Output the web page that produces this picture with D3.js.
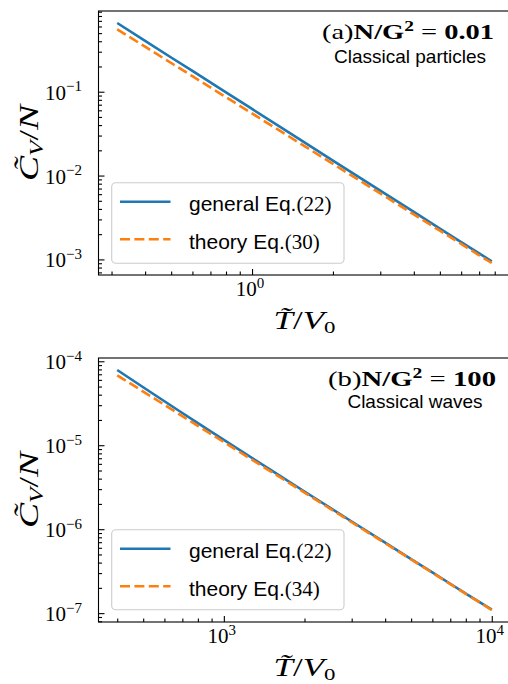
<!DOCTYPE html>
<html><head><meta charset="utf-8">
<script src="https://cdn.jsdelivr.net/npm/d3@7"></script>
<style>
html,body{margin:0;padding:0;background:#fff;}
svg{display:block;}
</style></head>
<body>
<svg id="chart" width="508" height="684"></svg>
<script>
// ---------- data ----------
const tA = [0.315, 0.4, 0.5, 0.6, 0.8, 1, 1.5, 2, 3, 4, 5, 6, 7, 7.8];
const generalA = [0.660, 0.404, 0.256, 0.177, 0.0982, 0.0623, 0.0272, 0.01509, 0.00661, 0.00368, 0.00233, 0.00161, 0.00118, 0.000951];
const theoryA = [0.555, 0.344, 0.220, 0.153, 0.0861, 0.0551, 0.0245, 0.01378, 0.00612, 0.00344, 0.00220, 0.00153, 0.00112, 0.000906];

const tB = [400, 500, 600, 700, 800, 1000, 1500, 2000, 3000, 4000, 5000, 6000, 7000, 8000, 10000];
const generalB = [7.87e-5, 4.90e-5, 3.34e-5, 2.42e-5, 1.83e-5, 1.158e-5, 5.04e-6, 2.81e-6, 1.235e-6, 6.92e-7, 4.41e-7, 3.06e-7, 2.24e-7, 1.71e-7, 1.10e-7];
const theoryB = [6.81e-5, 4.36e-5, 3.03e-5, 2.22e-5, 1.70e-5, 1.09e-5, 4.84e-6, 2.73e-6, 1.21e-6, 6.81e-7, 4.36e-7, 3.03e-7, 2.22e-7, 1.70e-7, 1.09e-7];

const xMajorA = [1];
const xExpA = ["0"];
const yMajorA = [1e-3, 1e-2, 1e-1];
const yExpA = ["\u22123", "\u22122", "\u22121"];
const xMajorB = [1e3, 1e4];
const xExpB = ["3", "4"];
const yMajorB = [1e-7, 1e-6, 1e-5, 1e-4];
const yExpB = ["\u22127", "\u22126", "\u22125", "\u22124"];

const seriesNames = ["general Eq.", "theory Eq."];
const eqNumsA = ["(22)", "(30)"];
const eqNumsB = ["(22)", "(34)"];
const panelTags = ["(a)", "(b)"];
const panelRatios = ["0.01", "100"];
const panelSubtitles = ["Classical particles", "Classical waves"];

// ---------- drawing ----------
const svg = d3.select("#chart");
const BLUE = "#1f77b4", ORANGE = "#ff7f0e";
const SERIF = "'Liberation Serif', 'DejaVu Serif', serif";
const SANS = "'Liberation Sans', Arial, sans-serif";

function logPad(vals) {
  const lo = Math.log10(d3.min(vals)), hi = Math.log10(d3.max(vals));
  const m = (hi - lo) * 0.05;
  return [Math.pow(10, lo - m), Math.pow(10, hi + m)];
}

function minorTicks(domain) {
  const out = [];
  const d0 = Math.floor(Math.log10(domain[0])), d1 = Math.ceil(Math.log10(domain[1]));
  for (let d = d0; d <= d1; d++) for (let k = 2; k <= 9; k++) {
    const v = k * Math.pow(10, d);
    if (v >= domain[0] && v <= domain[1]) out.push(v);
  }
  return out;
}

function drawPanel(idx, cfg) {
  const L = 98.5, R = 510.5, T = cfg.top, B = cfg.top + 264;
  const g = svg.append("g");
  const xd = logPad(cfg.t);
  const yd = logPad(cfg.general.concat(cfg.theory));
  const x = d3.scaleLog().domain(xd).range([L, R]);
  const y = d3.scaleLog().domain(yd).range([B, T]);

  const clipId = "clip" + idx;
  svg.append("clipPath").attr("id", clipId).append("rect")
    .attr("x", L).attr("y", T).attr("width", R - L).attr("height", B - T);

  // lines
  const line = (vals) => d3.line().x((d, i) => x(cfg.t[i])).y(d => y(d))(vals);
  g.append("path").attr("d", line(cfg.general)).attr("fill", "none")
    .attr("stroke", BLUE).attr("stroke-width", 2.6).attr("clip-path", `url(#${clipId})`);
  g.append("path").attr("d", line(cfg.theory)).attr("fill", "none")
    .attr("stroke", ORANGE).attr("stroke-width", 2.6).attr("stroke-dasharray", "10,4.4")
    .attr("clip-path", `url(#${clipId})`);

  // axes (ticks inward)
  const xAxisMajor = d3.axisBottom(x).tickValues(cfg.xMajor).tickSize(-6).tickFormat("");
  const xAxisMinor = d3.axisBottom(x).tickValues(minorTicks(xd)).tickSize(-3.5).tickFormat("");
  const yAxisMajor = d3.axisLeft(y).tickValues(cfg.yMajor).tickSize(-6).tickFormat("");
  const yAxisMinor = d3.axisLeft(y).tickValues(minorTicks(yd)).tickSize(-3.5).tickFormat("");
  [[xAxisMajor, `translate(0,${B})`], [xAxisMinor, `translate(0,${B})`],
   [yAxisMajor, `translate(${L},0)`], [yAxisMinor, `translate(${L},0)`]].forEach(([ax, tr]) => {
    const a = g.append("g").attr("transform", tr).call(ax);
    a.select(".domain").remove();
    a.selectAll("line").attr("stroke", "#000").attr("stroke-width", 1.1);
  });

  // spines
  const sp = g.append("g").attr("stroke", "#000").attr("stroke-width", 1.1).attr("fill", "none");
  sp.append("rect").attr("x", L).attr("y", T).attr("width", R - L).attr("height", B - T);

  // y tick labels
  cfg.yMajor.forEach((v, i) => {
    const t = g.append("text").attr("x", 82).attr("y", y(v) + 8)
      .attr("text-anchor", "end").attr("font-family", SERIF).attr("font-size", 21).attr("fill", "#000");
    t.append("tspan").text("10");
    t.append("tspan").attr("dy", -8.5).attr("font-size", 15).text(cfg.yExp[i]);
  });
  // x tick labels
  cfg.xMajor.forEach((v, i) => {
    const t = g.append("text").attr("x", x(v) - 2).attr("y", B + 21)
      .attr("text-anchor", "middle").attr("font-family", SERIF).attr("font-size", 21).attr("fill", "#000");
    t.append("tspan").text("10");
    t.append("tspan").attr("dy", -8.5).attr("font-size", 15).text(cfg.xExp[i]);
  });

  // axis labels
  const xl = g.append("text").attr("x", (L + R) / 2).attr("y", B + 54)
    .attr("text-anchor", "middle").attr("font-family", SERIF).attr("font-size", 26)
    .attr("textLength", 62).attr("lengthAdjust", "spacingAndGlyphs").attr("fill", "#000");
  xl.append("tspan").attr("font-style", "italic").text("T\u0303");
  xl.append("tspan").text("/");
  xl.append("tspan").attr("font-style", "italic").text("V");
  xl.append("tspan").attr("dy", 3.5).attr("font-size", 17).text("0");

  const yl = g.append("text").attr("transform", `translate(38,${(T + B) / 2}) rotate(-90)`)
    .attr("text-anchor", "middle").attr("font-family", SERIF).attr("font-size", 27)
    .attr("textLength", 76).attr("lengthAdjust", "spacingAndGlyphs").attr("fill", "#000");
  yl.append("tspan").attr("font-style", "italic").text("C\u0303");
  yl.append("tspan").attr("font-style", "italic").attr("dy", 5).attr("font-size", 18).text("V");
  yl.append("tspan").attr("dy", -5).text("/");
  yl.append("tspan").attr("font-style", "italic").text("N");

  // annotation
  const an = g.append("text").attr("x", cfg.annX).attr("y", T + 28)
    .attr("text-anchor", "middle").attr("font-family", SERIF).attr("font-size", 22)
    .attr("textLength", cfg.annW).attr("lengthAdjust", "spacingAndGlyphs").attr("fill", "#000");
  an.append("tspan").text(panelTags[idx]);
  an.append("tspan").attr("font-weight", "bold").text("N/G");
  an.append("tspan").attr("font-weight", "bold").attr("dy", -8).attr("font-size", 15).text("2");
  an.append("tspan").attr("dy", 8).text(" = ");
  an.append("tspan").attr("font-weight", "bold").text(panelRatios[idx]);

  g.append("text").attr("x", cfg.subX).attr("y", T + cfg.subDy)
    .attr("text-anchor", "middle").attr("font-family", SANS).attr("font-size", 19)
    .attr("fill", "#000").text(panelSubtitles[idx]);

  // legend
  const lg = g.append("g");
  lg.append("rect").attr("x", 111.7).attr("y", T + cfg.legTop).attr("width", 232.3).attr("height", cfg.legH)
    .attr("rx", 4).attr("fill", "#fff").attr("fill-opacity", 0.8)
    .attr("stroke", "#cccccc").attr("stroke-width", 1.1);
  const rows = [{c: BLUE, dash: null}, {c: ORANGE, dash: "10,4.4"}];
  rows.forEach((r, i) => {
    const yy = T + cfg.legTop + 19 + i * 37.6;
    const ln = lg.append("line").attr("x1", 120).attr("x2", 170.5).attr("y1", yy).attr("y2", yy)
      .attr("stroke", r.c).attr("stroke-width", 2.6);
    if (r.dash) ln.attr("stroke-dasharray", r.dash);
    const tx = lg.append("text").attr("x", 189).attr("y", yy + 9.5)
      .attr("font-family", SANS).attr("font-size", 21).attr("fill", "#000");
    tx.append("tspan").text(seriesNames[i]);
    tx.append("tspan").attr("font-family", SERIF).text(cfg.eq[i]);
  });
}

drawPanel(0, {t: tA, general: generalA, theory: theoryA, top: 11,
  xMajor: xMajorA, xExp: xExpA, yMajor: yMajorA, yExp: yExpA, eq: eqNumsA,
  annX: 408, annW: 172, subX: 410, subDy: 52, legTop: 171.7, legH: 80.6});
drawPanel(1, {t: tB, general: generalB, theory: theoryB, top: 358,
  xMajor: xMajorB, xExp: xExpB, yMajor: yMajorB, yExp: yExpB, eq: eqNumsB,
  annX: 412, annW: 168, subX: 415, subDy: 49.7, legTop: 171.7, legH: 80});
</script>
</body></html>
